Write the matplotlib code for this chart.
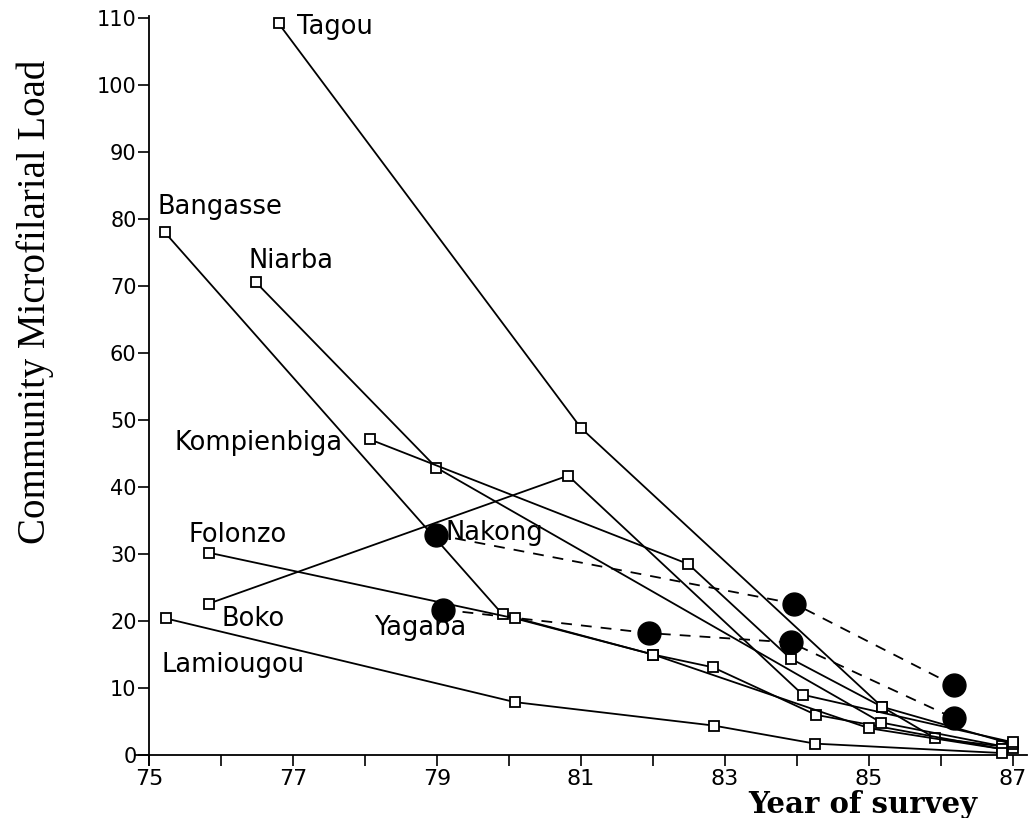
import matplotlib.pyplot as plt
from matplotlib.ticker import MultipleLocator

# Year of survey and community microfilarial load for each village
tagou_years = [76.8, 81.0, 85.18, 85.92, 86.84]
tagou_load = [109.2, 48.8, 7.2, 2.5, 1.3]

bangasse_years = [75.22, 79.91, 82.0, 82.83, 84.26, 86.84]
bangasse_load = [78.0, 21.0, 15.0, 13.1, 6.0, 0.9]

niarba_years = [76.48, 78.99, 85.17, 87.0]
niarba_load = [70.6, 42.9, 4.85, 1.0]

kompienbiga_years = [78.07, 82.49, 83.91, 85.18, 87.0]
kompienbiga_load = [47.1, 28.5, 14.4, 7.2, 1.6]

folonzo_years = [75.83, 80.08, 82.0, 85.0, 86.84]
folonzo_load = [30.2, 20.4, 15.0, 4.0, 0.9]

boko_years = [75.83, 80.82, 84.08, 87.0]
boko_load = [22.6, 41.7, 9.0, 1.9]

lamiougou_years = [75.23, 80.08, 82.84, 84.25, 86.84]
lamiougou_load = [20.4, 7.9, 4.4, 1.7, 0.3]

# villages shown with filled circles and dashed lines
nakong_years = [78.98, 83.96, 86.18]
nakong_load = [32.9, 22.6, 10.4]

yagaba_years = [79.08, 81.94, 83.91, 86.18]
yagaba_load = [21.7, 18.2, 16.8, 5.5]

# label text and where it sits (year, load)
labels = ['Tagou', 'Bangasse', 'Niarba', 'Kompienbiga', 'Nakong',
          'Folonzo', 'Boko', 'Yagaba', 'Lamiougou']
label_x = [77.05, 75.12, 76.38, 75.36, 79.12, 75.55, 76.01, 78.12, 75.18]
label_y = [108.7, 81.8, 73.7, 46.5, 33.1, 32.9, 20.3, 19.0, 13.4]

x_ticks = [75, 77, 79, 81, 83, 85, 87]
y_ticks = [0, 10, 20, 30, 40, 50, 60, 70, 80, 90, 100, 110]

fig = plt.figure(figsize=(10.3, 8.18), dpi=100)
ax = fig.add_axes([0.1307, 0.0647, 0.8668, 0.9157])

solid = [(tagou_years, tagou_load), (bangasse_years, bangasse_load),
         (niarba_years, niarba_load), (kompienbiga_years, kompienbiga_load),
         (folonzo_years, folonzo_load), (boko_years, boko_load),
         (lamiougou_years, lamiougou_load)]
for xs, ys in solid:
    ax.plot(xs, ys, color='black', linewidth=1.3, marker='s', markersize=7.5,
            markerfacecolor='white', markeredgecolor='black', markeredgewidth=1.3,
            zorder=3)

for xs, ys in [(nakong_years, nakong_load), (yagaba_years, yagaba_load)]:
    ax.plot(xs, ys, color='black', linewidth=1.3, linestyle=(0, (6, 5)),
            zorder=2)
    ax.plot(xs, ys, linestyle='none', marker='o', markersize=16.5,
            color='black', zorder=4)

for text, lx, ly in zip(labels, label_x, label_y):
    ax.text(lx, ly, text, fontsize=18.5, family='DejaVu Sans', ha='left',
            va='center', zorder=5)

# axes look: only left and bottom lines, crossing at (75, 0)
ax.set_xlim(74.8, 87.2)
ax.set_ylim(-1.5, 110.3)
ax.spines['top'].set_visible(False)
ax.spines['right'].set_visible(False)
ax.spines['left'].set_position(('data', 75))
ax.spines['bottom'].set_position(('data', 0))
ax.spines['left'].set_linewidth(1.3)
ax.spines['bottom'].set_linewidth(1.3)

ax.set_xticks(x_ticks)
ax.set_xticklabels([str(t) for t in x_ticks])
ax.xaxis.set_minor_locator(MultipleLocator(1))
ax.set_yticks(y_ticks)
ax.set_yticklabels([str(t) for t in y_ticks])
ax.tick_params(axis='x', which='both', direction='out', length=8, width=1.2, pad=2)
ax.tick_params(axis='y', which='both', direction='out', length=8, width=1.2, pad=1)
for lab in ax.get_xticklabels():
    lab.set_family('DejaVu Sans')
    lab.set_fontsize(16)
for lab in ax.get_yticklabels():
    lab.set_family('DejaVu Sans')
    lab.set_fontsize(15)

fig.text(0.838, 0.017, 'Year of survey', fontsize=21, family='DejaVu Serif',
         fontweight='bold', ha='center', va='center')
fig.text(0.034, 0.631, 'Community Microfilarial Load', fontsize=28,
         family='Liberation Serif', rotation=90, ha='center', va='center')

plt.savefig('out.png', dpi=100)
